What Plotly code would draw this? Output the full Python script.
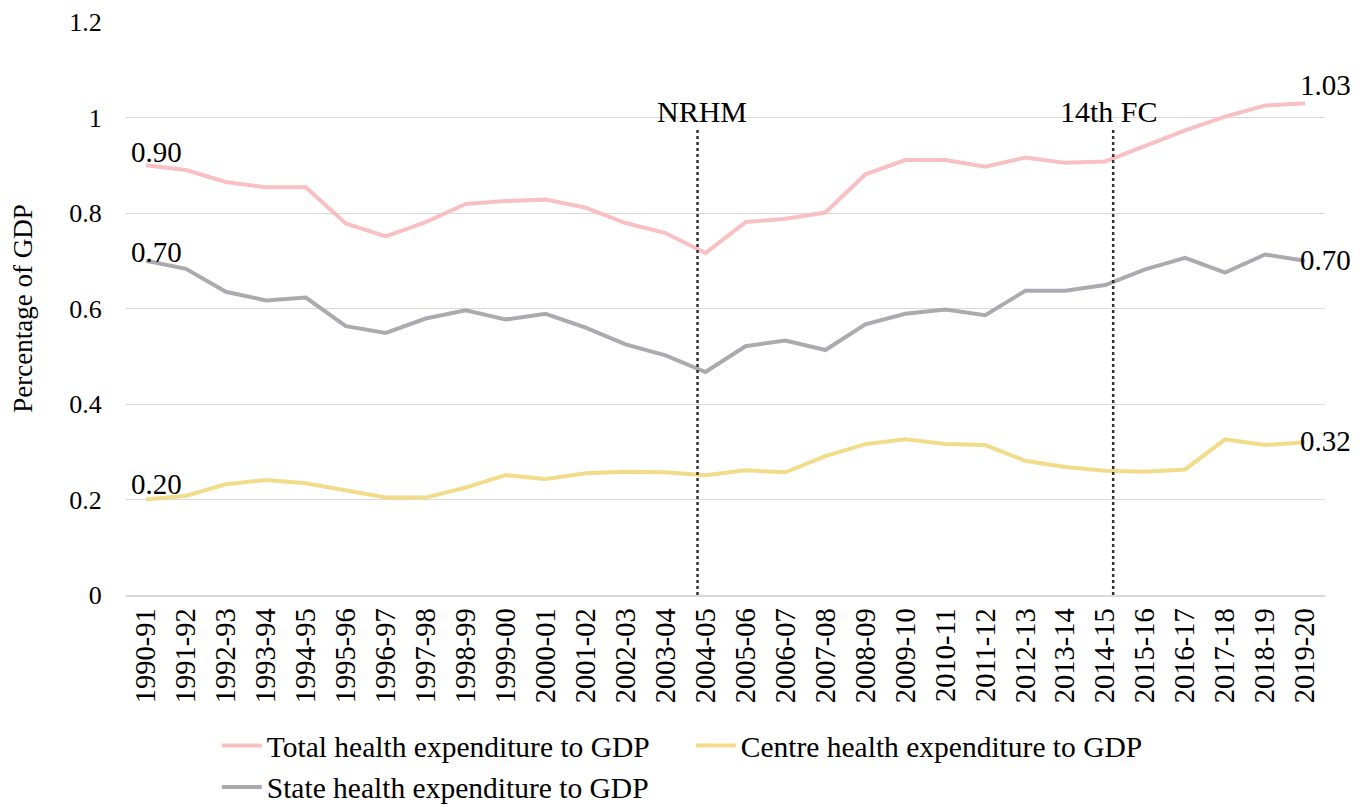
import plotly.graph_objects as go

# fiscal years
years = ["1990-91", "1991-92", "1992-93", "1993-94", "1994-95", "1995-96",
         "1996-97", "1997-98", "1998-99", "1999-00", "2000-01", "2001-02",
         "2002-03", "2003-04", "2004-05", "2005-06", "2006-07", "2007-08",
         "2008-09", "2009-10", "2010-11", "2011-12", "2012-13", "2013-14",
         "2014-15", "2015-16", "2016-17", "2017-18", "2018-19", "2019-20"]

# health expenditure as % of GDP
total = [0.90, 0.89, 0.865, 0.854, 0.854, 0.778, 0.751, 0.781, 0.819, 0.825,
         0.828, 0.811, 0.779, 0.758, 0.716, 0.781, 0.788, 0.801, 0.881, 0.911,
         0.911, 0.897, 0.916, 0.905, 0.908, 0.941, 0.973, 1.002, 1.025, 1.03]
centre = [0.20, 0.208, 0.232, 0.241, 0.234, 0.218, 0.204, 0.204, 0.225, 0.251,
          0.243, 0.255, 0.258, 0.257, 0.251, 0.261, 0.257, 0.291, 0.316, 0.326,
          0.316, 0.314, 0.281, 0.268, 0.26, 0.258, 0.263, 0.326, 0.314, 0.32]
state = [0.70, 0.683, 0.635, 0.617, 0.623, 0.563, 0.549, 0.579, 0.596, 0.577,
         0.589, 0.560, 0.525, 0.502, 0.467, 0.521, 0.533, 0.513, 0.567, 0.589,
         0.598, 0.586, 0.637, 0.637, 0.649, 0.682, 0.706, 0.675, 0.713, 0.70]

# policy markers: (year, label, line offset in categories, label xshift px)
events = [("2004-05", "NRHM", -0.2, -4), ("2014-15", "14th FC", 0.2, 4)]
event_top = 0.977

FONT = "Liberation Serif"
series = [
    ("Total health expenditure to GDP", total, "#F9C0C4"),
    ("Centre health expenditure to GDP", centre, "#F2DC8A"),
    ("State health expenditure to GDP", state, "#ABABAF"),
]
# label nudges (start yshift, end yshift)
nudges = {"Total": (13, 18), "Centre": (16, 1), "State": (9, 1)}

fig = go.Figure()
for name, vals, col in series:
    fig.add_trace(go.Scatter(x=years, y=vals, name=name, mode="lines",
                             line=dict(color=col, width=4)))

# start / end value labels
for name, vals, col in series:
    ys, ye = nudges[name.split()[0]]
    fig.add_annotation(x=years[0], y=vals[0], text=f"{vals[0]:.2f}",
                       showarrow=False, xanchor="left", yanchor="middle",
                       xshift=-17, yshift=ys, font=dict(size=29, color="black"))
    fig.add_annotation(x=years[-1], y=vals[-1], text=f"{vals[-1]:.2f}",
                       showarrow=False, xanchor="left", yanchor="middle",
                       xshift=-7, yshift=ye, font=dict(size=29, color="black"))

for yr, label, off, dx in events:
    fig.add_shape(type="line", x0=yr, x1=yr, x0shift=off, x1shift=off,
                  y0=0, y1=event_top, xref="x", yref="y",
                  line=dict(color="#333333", width=2.5, dash="dot"))
    fig.add_annotation(x=yr, y=event_top, text=label, showarrow=False,
                       yanchor="middle", xshift=dx, yshift=17,
                       font=dict(size=30, color="black"))

# page body adds an 8px offset, so the figure is 8px smaller and margins shifted
fig.update_layout(
    width=1354, height=797,
    margin=dict(l=118, r=37, t=14, b=210, autoexpand=False),
    plot_bgcolor="white", paper_bgcolor="white",
    font=dict(family=FONT, size=27, color="black"),
    showlegend=True,
    legend=dict(orientation="h", x=0.0757, xanchor="left", y=-0.218, yanchor="top",
                font=dict(size=29.5), entrywidth=419, tracegroupgap=0,
                itemwidth=40),
)
fig.update_xaxes(type="category", range=[-0.5, 29.5], tickangle=-90,
                 showline=True, linecolor="#D9D9D9", linewidth=1.5,
                 showgrid=False, tickfont=dict(size=28.5), ticks="",
                 automargin=False)
fig.update_yaxes(range=[0, 1.2], dtick=0.2, showgrid=True, gridcolor="#D9D9D9",
                 gridwidth=1.2, zeroline=False, tickfont=dict(size=26),
                 ticks="outside", ticklen=18, tickcolor="white", automargin=False,
                 title=dict(text="Percentage of GDP", font=dict(size=27), standoff=29))

fig.write_html("out.html")
